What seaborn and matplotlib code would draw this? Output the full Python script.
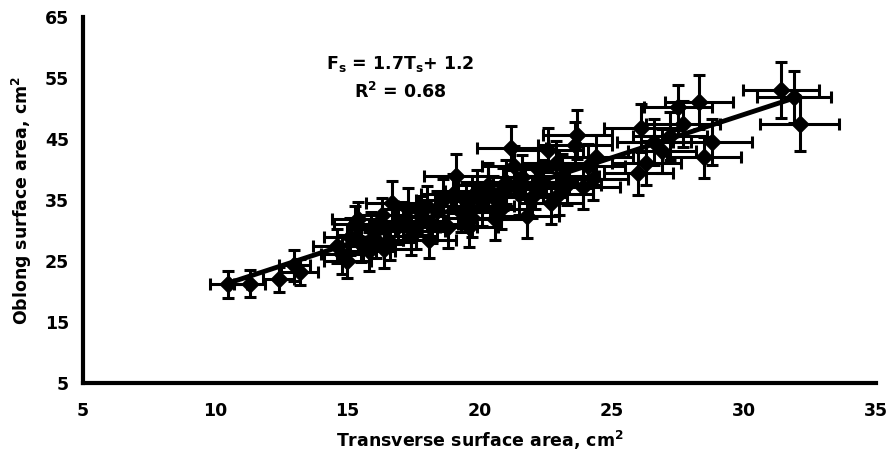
import matplotlib
matplotlib.use('Agg')
import matplotlib.pyplot as plt
import seaborn as sns
import pandas as pd

# 读图估计的数据 (横向/纵向表面积, cm2, 以及误差)
transverse = [10.5, 11.3, 12.4, 13.0, 13.2, 14.6, 14.8, 15.0, 15.1, 15.3,
              15.4, 15.5, 15.8, 15.9, 16.1, 16.3, 16.6, 16.7, 16.9, 17.1,
              17.3, 17.4, 17.6, 17.8, 18.0, 18.2, 18.4, 18.6, 18.8, 19.0,
              19.1, 19.3, 19.5, 19.7, 19.9, 20.1, 20.3, 20.5, 20.6, 20.8,
              21.0, 21.2, 21.3, 21.5, 21.6, 21.8, 22.0, 22.2, 22.4, 22.6,
              22.7, 22.9, 23.1, 23.3, 23.6, 23.7, 23.9, 24.1, 24.3, 26.0,
              26.1, 26.3, 26.6, 26.9, 27.2, 27.5, 27.7, 28.3, 28.5, 28.8,
              31.4, 31.9, 32.1, 19.6, 20.9, 22.1, 18.1, 16.4, 23.0, 24.4]
oblong = [21.2, 21.3, 22.0, 24.3, 23.2, 27.5, 26.1, 25.0, 29.0, 31.0,
          31.9, 27.8, 26.6, 30.2, 28.5, 32.5, 28.1, 34.5, 30.8, 31.5,
          33.5, 29.1, 30.0, 32.4, 34.0, 31.0, 33.2, 35.0, 30.6, 36.0,
          38.9, 33.0, 34.8, 32.0, 36.5, 34.0, 37.5, 35.5, 31.9, 33.5,
          38.0, 43.5, 40.5, 36.0, 38.8, 32.4, 35.5, 40.0, 38.0, 43.2,
          34.5, 41.0, 39.0, 37.5, 44.0, 45.7, 37.1, 40.5, 38.5, 39.4,
          46.8, 41.0, 44.5, 43.0, 45.5, 50.2, 47.5, 51.1, 42.0, 44.5,
          53.0, 51.9, 47.5, 30.5, 36.8, 37.0, 28.5, 26.9, 36.0, 42.0]
transverse_err = [0.7, 0.6, 0.6, 0.6, 0.7, 0.9, 0.8, 0.9, 1.0, 0.8,
                  1.0, 0.9, 1.0, 0.9, 1.0, 0.9, 1.0, 1.0, 1.1, 0.9,
                  1.0, 1.0, 1.1, 1.0, 1.1, 1.0, 1.1, 1.0, 1.1, 1.2,
                  1.2, 1.1, 1.2, 1.1, 1.2, 1.2, 1.1, 1.2, 1.2, 1.1,
                  1.3, 1.3, 1.2, 1.2, 1.3, 1.2, 1.3, 1.2, 1.3, 1.3,
                  1.2, 1.3, 1.4, 1.3, 1.4, 1.3, 1.4, 1.4, 1.3, 1.3,
                  1.4, 1.3, 1.4, 1.3, 1.4, 1.3, 1.4, 1.3, 1.4, 1.5,
                  1.45, 1.4, 1.5, 1.1, 1.2, 1.3, 1.0, 1.0, 1.3, 1.4]
oblong_err = [2.2, 2.2, 2.0, 2.5, 2.2, 2.8, 3.2, 2.8, 3.0, 3.0,
              2.8, 3.0, 3.2, 2.8, 3.0, 2.8, 3.0, 3.6, 3.0, 3.2,
              3.4, 3.1, 3.0, 3.2, 3.3, 3.0, 3.2, 3.4, 3.4, 3.2,
              3.6, 3.3, 3.2, 3.0, 3.4, 3.2, 3.5, 3.4, 3.5, 3.2,
              3.6, 3.6, 3.4, 3.5, 3.6, 3.6, 3.4, 3.6, 3.5, 3.6,
              3.4, 3.6, 3.5, 3.4, 3.8, 4.0, 3.6, 3.6, 3.5, 3.6,
              4.0, 3.6, 3.8, 3.6, 4.0, 3.7, 3.8, 4.4, 3.4, 3.8,
              4.6, 4.3, 4.4, 3.2, 3.4, 3.5, 3.0, 3.0, 3.4, 3.6]

x_ticks = [5, 10, 15, 20, 25, 30, 35]
y_ticks = [5, 15, 25, 35, 45, 55, 65]

df = pd.DataFrame({'T': transverse, 'F': oblong,
                   'T_err': transverse_err, 'F_err': oblong_err})

sns.set_style('white')
plt.rcParams['font.family'] = ['DejaVu Sans']
plt.rcParams['font.weight'] = 'bold'
plt.rcParams['mathtext.default'] = 'regular'
plt.rcParams['text.color'] = 'black'
plt.rcParams['axes.labelcolor'] = 'black'
plt.rcParams['xtick.color'] = 'black'
plt.rcParams['ytick.color'] = 'black'

fig = plt.figure(figsize=(8.95, 4.53), dpi=100)
ax = fig.add_axes([0.0927, 0.1545, 0.8863, 0.808])

ax.errorbar(df['T'], df['F'], xerr=df['T_err'], yerr=df['F_err'], fmt='none',
            ecolor='black', elinewidth=2.2, capsize=4, capthick=2.2, zorder=2)
sns.regplot(data=df, x='T', y='F', scatter=False, ci=None, ax=ax,
            line_kws={'color': 'black', 'lw': 3.5, 'zorder': 3})
sns.scatterplot(data=df, x='T', y='F', marker='D', s=90, color='black',
                edgecolor='black', linewidth=0, ax=ax, zorder=4)

# 回归方程标注
ax.text(17.0, 57.3, r'F$_s$ = 1.7T$_s$+ 1.2', ha='center', va='center',
        fontsize=12.5, fontweight='bold', color='black')
ax.text(17.0, 52.7, r'R$^2$ = 0.68', ha='center', va='center',
        fontsize=12.5, fontweight='bold', color='black')

ax.set_xlim(5, 35)
ax.set_ylim(5, 65)
ax.set_xticks(x_ticks)
ax.set_yticks(y_ticks)
ax.tick_params(direction='out', length=4, width=2.5, labelsize=12.5,
               color='black', labelcolor='black')
ax.tick_params(axis='x', pad=10)
ax.tick_params(axis='y', pad=6)
for lab in ax.get_xticklabels() + ax.get_yticklabels():
    lab.set_fontweight('bold')

for side in ['top', 'right']:
    ax.spines[side].set_visible(False)
for side in ['left', 'bottom']:
    ax.spines[side].set_linewidth(3)
    ax.spines[side].set_color('black')

ax.set_xlabel(r'Transverse surface area, cm$^2$', fontsize=12.5, fontweight='bold',
              labelpad=6, color='black')
ax.set_ylabel(r'Oblong surface area, cm$^2$', fontsize=12.5, fontweight='bold',
              labelpad=8, color='black')

fig.savefig('out.png', dpi=100)
